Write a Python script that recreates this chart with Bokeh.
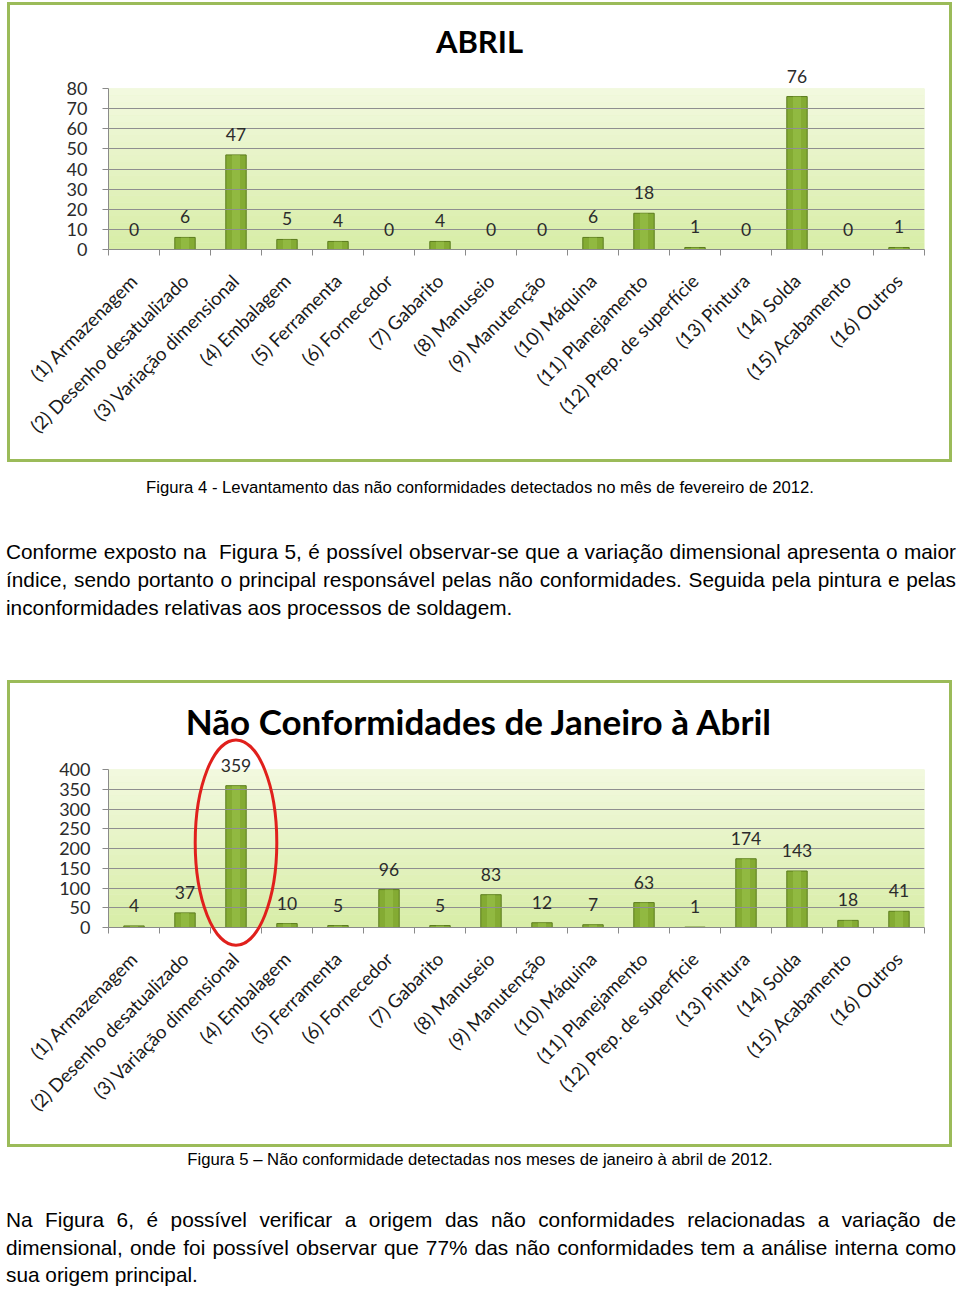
import math
from bokeh.plotting import figure
from bokeh.models import (ColumnDataSource, LinearAxis, FixedTicker,
                          Range1d, Div, BoxAnnotation, CustomJSTickFormatter)
from bokeh.layouts import column
from bokeh.embed import file_html
from bokeh.resources import INLINE
from bokeh.core.properties import value

# ---------------- data ----------------
categories_abril = ["(1) Armazenagem", "(2) Desenho desatualizado", "(3) Variação dimensional",
                    "(4) Embalagem", "(5) Ferramenta", "(6) Fornecedor", "(7) Gabarito",
                    "(8) Manuseio", "(9) Manutenção", "(10) Máquina", "(11) Planejamento",
                    "(12) Prep. de superfície", "(13) Pintura", "(14) Solda",
                    "(15) Acabamento", "(16) Outros"]
categories_total = ["(1) Armazenagem", "(2) Desenho desatualizado", "(3) Variação dimensional",
                    "(4) Embalagem", "(5) Ferramenta", "(6) Fornecedor", "(7) Gabarito",
                    "(8) Manuseio", "(9) Manutenção", "(10) Máquina", "(11) Planejamento",
                    "(12) Prep. de superficie", "(13) Pintura", "(14) Solda",
                    "(15) Acabamento", "(16) Outros"]
values_abril = [0, 6, 47, 5, 4, 0, 4, 0, 0, 6, 18, 1, 0, 76, 0, 1]
values_total = [4, 37, 359, 10, 5, 96, 5, 83, 12, 7, 63, 1, 174, 143, 18, 41]
yticks_abril = [0, 10, 20, 30, 40, 50, 60, 70, 80]
yticks_total = [0, 50, 100, 150, 200, 250, 300, 350, 400]
title_abril = "ABRIL"
title_total = "Não Conformidades de Janeiro à Abril"

# highlight ellipse (chart 2) around category 3
highlight_x = 3
highlight_y = 215
highlight_w = 1.6
highlight_h = 520

FONT = "Lato"
GREEN_BORDER = "#9bbb59"


def lerp_color(c1, c2, t):
    a = [int(c1[i:i + 2], 16) for i in (1, 3, 5)]
    b = [int(c2[i:i + 2], 16) for i in (1, 3, 5)]
    return "#" + "".join(f"{round(a[k] + (b[k] - a[k]) * t):02x}" for k in range(3))


def make_chart(cats, vals, ticks, title, height, borders, title_size, title_dy,
               ylabel_standoff, margin):
    n = len(cats)
    xs = list(range(1, n + 1))
    ymax = ticks[-1]
    mleft, mright, mtop, mbottom = borders
    p = figure(width=945, height=height, x_range=Range1d(0.5, n + 0.5),
               y_range=Range1d(0, ymax), output_backend="svg", toolbar_location=None,
               min_border_left=mleft, min_border_right=mright,
               min_border_top=mtop, min_border_bottom=mbottom,
               styles={"border": f"3px solid {GREEN_BORDER}"}, margin=margin)
    p.background_fill_color = "#e6f3c6"
    p.border_fill_color = "white"
    p.outline_line_color = None

    # gradient background of the plot area
    nb = 24
    for i in range(nb):
        p.add_layout(BoxAnnotation(bottom=ymax * i / nb, top=ymax * (i + 1) / nb,
                                   fill_color=lerp_color("#d8eda8", "#f2f9de", i / (nb - 1)),
                                   fill_alpha=1.0, line_color=None, level="underlay"))

    # chart title, centred on the chart box, above the plot area
    p.text(x=[(n + 1) / 2], y=[ymax], text=[title], text_align="center",
           text_baseline="middle", x_offset=-37, y_offset=title_dy,
           text_font=value(FONT), text_font_style="bold", text_font_size=title_size,
           text_color="#000000", level="overlay")

    src = ColumnDataSource(dict(x=xs, top=vals, label=[str(v) for v in vals]))
    p.vbar(x="x", top="top", width=0.4, source=src, fill_color="#84ab33",
           line_color="#5b7b1d", line_width=1)
    p.vbar(x="x", top="top", width=0.16, source=src, fill_color="#9cc54c",
           fill_alpha=0.55, line_color=None)
    p.text(x="x", y="top", text="label", source=src, text_align="center",
           text_baseline="bottom", y_offset=-14, text_font=value(FONT),
           text_font_size="17.5px", text_color="#2b2b2b", level="overlay")

    # y axis
    ya = p.yaxis[0]
    ya.ticker = FixedTicker(ticks=ticks)
    ya.axis_line_color = "#8a8a8a"
    ya.major_tick_line_color = "#8a8a8a"
    ya.major_tick_out = 6
    ya.major_tick_in = 0
    ya.minor_tick_line_color = None
    ya.major_label_standoff = ylabel_standoff
    ya.major_label_text_font = FONT
    ya.major_label_text_font_size = "18px"
    ya.major_label_text_color = "#2b2b2b"
    p.ygrid.grid_line_color = "#8f8f8f"
    p.ygrid.level = "glyph"
    p.xgrid.grid_line_color = None

    # x axis: ticks at category boundaries
    xa = p.xaxis[0]
    xa.ticker = FixedTicker(ticks=[i + 0.5 for i in range(n + 1)])
    xa.formatter = CustomJSTickFormatter(code="return ''")
    xa.axis_line_color = "#8a8a8a"
    xa.major_tick_line_color = "#8a8a8a"
    xa.major_tick_out = 6
    xa.major_tick_in = 0
    xa.minor_tick_line_color = None
    xa.major_label_standoff = 0

    # x axis: rotated category labels
    la = LinearAxis(ticker=FixedTicker(ticks=xs),
                    major_label_overrides={x: c for x, c in zip(xs, cats)},
                    major_label_orientation=math.pi / 4,
                    axis_line_color=None, major_tick_line_color=None,
                    minor_tick_line_color=None, major_label_standoff=16,
                    major_label_text_font=FONT, major_label_text_font_size="18.6px",
                    major_label_text_color="#1a1a1a")
    p.add_layout(la, "below")
    return p


p1 = make_chart(categories_abril, values_abril, yticks_abril, title_abril, 460,
                (92, 22, 83, 216), "31px", -48, 15, (2, 0, 0, 7))
p2 = make_chart(categories_total, values_total, yticks_total, title_total, 467,
                (98, 31, 86, 223), "35px", -49, 12, (1, 0, 0, 7))
p2.ellipse(x=highlight_x, y=highlight_y, width=highlight_w, height=highlight_h,
           fill_color=None, line_color="#e0201c", line_width=3, level="overlay")

TXT = "font-family:'Liberation Sans',Arial,sans-serif;color:#000;"
JL = "text-align:justify;text-align-last:justify;"

div1 = Div(width=960, height=217, margin=0, text=f"""
<div style="{TXT}width:960px;">
 <div style="text-align:center;font-size:16.7px;line-height:20px;margin-top:16px;">Figura 4 - Levantamento das não conformidades detectados no mês de fevereiro de 2012.</div>
 <div style="font-size:20.8px;line-height:28px;margin-top:40px;margin-left:6px;width:950px;">
  <div style="{JL}">Conforme exposto na&nbsp; Figura 5, é possível observar-se que a variação dimensional apresenta o maior</div>
  <div style="{JL}">índice, sendo portanto o principal responsável pelas não conformidades. Seguida pela pintura e pelas</div>
  <div style="text-align:left;">inconformidades relativas aos processos de soldagem.</div>
 </div>
</div>""")

div2 = Div(width=960, height=142, margin=0, text=f"""
<div style="{TXT}width:960px;">
 <div style="text-align:center;font-size:16.7px;line-height:20px;margin-top:3px;">Figura 5 – Não conformidade detectadas nos meses de janeiro à abril de 2012.</div>
 <div style="font-size:20.8px;line-height:27.5px;margin-top:36px;margin-left:6px;width:950px;">
  <div style="{JL}">Na Figura 6, é possível verificar a origem das não conformidades relacionadas a variação de</div>
  <div style="{JL}">dimensional, onde foi possível observar que 77% das não conformidades tem a análise interna como</div>
  <div style="text-align:left;">sua origem principal.</div>
 </div>
</div>""")

layout = column(p1, div1, p2, div2, spacing=0, margin=0)

with open("out.html", "w") as f:
    f.write(file_html(layout, INLINE))
